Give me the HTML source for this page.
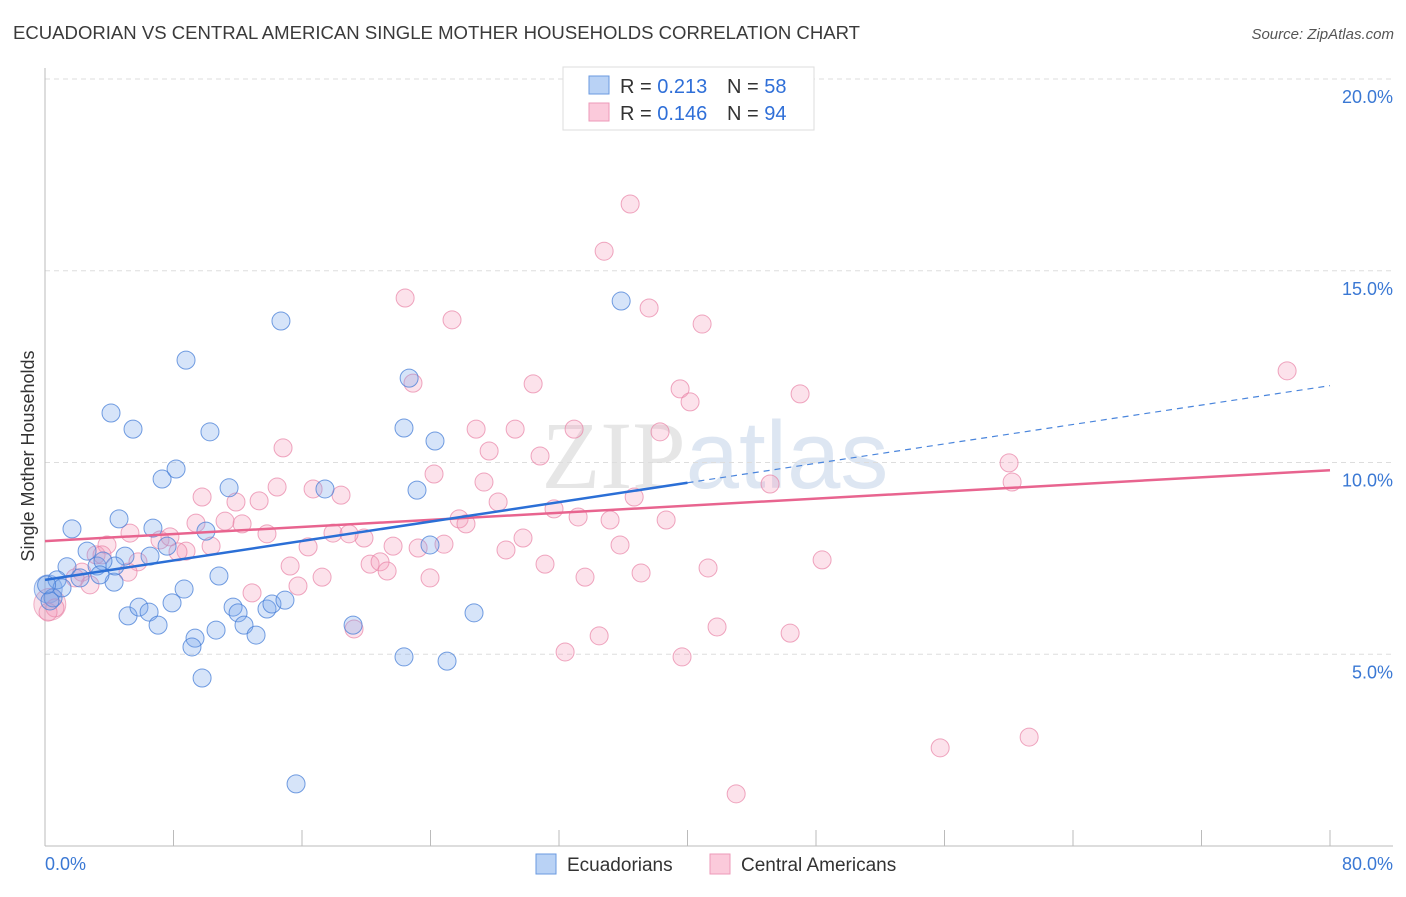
<!DOCTYPE html>
<html><head><meta charset="utf-8"><style>
body{margin:0;background:#fff;font-family:"Liberation Sans",sans-serif}
</style></head><body>
<svg id="chart" width="1406" height="892" xmlns="http://www.w3.org/2000/svg" font-family="Liberation Sans, sans-serif">
<text x="13" y="39" font-size="18" fill="#3a3a3a" textLength="847" lengthAdjust="spacingAndGlyphs">ECUADORIAN VS CENTRAL AMERICAN SINGLE MOTHER HOUSEHOLDS CORRELATION CHART</text>
<text x="1394" y="39" font-size="15" fill="#555" text-anchor="end" font-style="italic">Source: ZipAtlas.com</text>
<text x="715" y="488" font-size="96" fill="#e6e6e6" text-anchor="middle" font-family="Liberation Serif, serif">ZIP<tspan font-family="Liberation Sans, sans-serif" fill="#dde6f2">atlas</tspan></text>
<g id="grid"></g><g id="axes"></g><g id="pts"></g><g id="lines"></g>
<text transform="translate(34,456) rotate(-90)" font-size="18" fill="#333" text-anchor="middle">Single Mother Households</text>
<g>
<rect x="563" y="67" width="251" height="63" fill="#fff" stroke="#ddd"/>
<rect x="589" y="76" width="20" height="18" fill="#b9d2f5" stroke="#6a9ae0"/>
<text x="620" y="93" font-size="20" fill="#333">R = <tspan fill="#2f6fd8">0.213</tspan></text>
<text x="727" y="93" font-size="20" fill="#333">N = <tspan fill="#2f6fd8">58</tspan></text>
<rect x="589" y="103" width="20" height="18" fill="#fbcadb" stroke="#ee9ab8"/>
<text x="620" y="120" font-size="20" fill="#333">R = <tspan fill="#2f6fd8">0.146</tspan></text>
<text x="727" y="120" font-size="20" fill="#333">N = <tspan fill="#2f6fd8">94</tspan></text>
</g>
<g><rect x="536" y="854" width="20" height="20" fill="#b9d2f5" stroke="#6a9ae0"/><text x="567" y="871" font-size="19" fill="#333">Ecuadorians</text></g>
<g><rect x="710" y="854" width="20" height="20" fill="#fbcadb" stroke="#ee9ab8"/><text x="741" y="871" font-size="19" fill="#333">Central Americans</text></g>
</svg>
<script>
const blueX=[1.68,4.61,4.11,5.48,6.72,7.29,8.16,8.78,10.27,11.46,10.02,7.60,4.98,3.24,2.62,1.37,0.75,0.50,0.31,4.30,4.36,3.61,5.17,5.85,6.48,7.04,7.91,8.66,10.83,9.34,9.15,9.78,10.65,11.71,12.02,12.39,13.14,13.82,14.13,14.94,14.69,15.63,17.43,19.18,22.35,22.67,23.16,23.97,24.28,22.35,25.03,26.71,35.87,1.06,2.18,0.1,6.54,3.42];
const blueY=[8.27,8.53,11.29,10.87,8.29,9.57,9.83,12.67,10.80,9.34,8.21,7.82,7.56,7.30,7.69,7.28,6.94,6.47,6.39,6.88,7.30,7.43,6.00,6.23,6.10,5.76,6.34,6.70,7.04,5.42,5.19,4.38,5.63,6.23,6.08,5.76,5.50,6.18,6.31,6.41,13.69,1.62,9.31,5.76,10.90,12.20,9.28,7.85,10.56,4.93,4.82,6.08,14.21,6.73,6.99,6.81,7.56,7.07];
const pinkX=[36.43,34.81,22.42,37.61,40.91,25.34,30.39,39.54,40.16,47.01,77.33,22.91,14.82,26.84,29.27,32.94,38.29,27.65,30.82,24.22,27.33,60.02,60.21,45.14,36.68,28.21,9.78,11.89,13.33,14.45,16.69,18.43,11.21,12.27,9.40,13.82,17.93,19.86,18.93,25.78,26.21,31.69,33.19,35.18,38.67,29.76,28.70,35.80,21.67,23.23,24.84,10.34,8.78,8.28,7.16,7.78,5.29,3.86,3.18,5.79,2.30,2.80,1.87,20.24,20.86,31.13,33.62,37.11,41.28,48.38,15.26,17.25,23.97,15.75,12.89,19.24,34.50,41.84,46.39,32.38,39.66,55.73,61.27,43.03,0.62,0.19,3.55,16.38,21.30,5.17];
const pinkY=[16.74,15.51,14.29,14.03,13.61,13.72,12.05,11.92,11.58,11.79,12.39,12.07,10.38,10.87,10.87,10.87,10.80,10.30,10.17,9.70,9.49,9.99,9.49,9.44,9.10,8.97,9.10,8.97,9.00,9.36,9.31,9.15,8.47,8.40,8.42,8.14,8.16,8.03,8.14,8.53,8.40,8.79,8.58,8.50,8.50,8.03,7.72,7.85,7.82,7.77,7.87,7.82,7.69,7.67,7.98,8.06,8.16,7.85,7.59,7.41,7.14,6.81,6.99,7.35,7.41,7.35,7.01,7.12,7.25,7.46,7.30,7.01,6.99,6.78,6.60,5.66,5.48,5.71,5.55,5.06,4.93,2.56,2.84,1.36,6.21,6.10,7.59,7.80,7.17,7.14];
const blueLine=[6.94,0.0633];
const pinkLine=[7.95,0.0231];
const yTicks=[5,10,15,20];
const xTickLabels=["0.0%","80.0%"];
const NS="http://www.w3.org/2000/svg";
const X=v=>45+v*1285/80, Y=v=>846-v*38.35;
function mk(p,t,a){const e=document.createElementNS(NS,t);for(const k in a)e.setAttribute(k,a[k]);p.appendChild(e);return e;}
const grid=document.getElementById('grid'),axes=document.getElementById('axes'),pts=document.getElementById('pts'),lines=document.getElementById('lines');
yTicks.forEach(t=>{const l=mk(grid,'line',{x1:45,x2:1393,y1:Y(t),y2:Y(t),stroke:'#ddd','stroke-dasharray':'5,4'});


const tx=mk(grid,'text',{x:1393,y:Y(t)+24,'font-size':18,fill:'#3a78d4','text-anchor':'end'});tx.textContent=t.toFixed(1)+'%';

});
mk(axes,'line',{x1:45,x2:45,y1:68,y2:846,stroke:'#bbb'});
mk(axes,'line',{x1:45,x2:1393,y1:846,y2:846,stroke:'#bbb'});
for(let i=0;i<=10;i++){const t=mk(axes,'line',{x1:X(i*8),x2:X(i*8),y1:830,y2:846,stroke:'#bbb'});

}
const xl0=mk(axes,'text',{x:45,y:870,'font-size':18,fill:'#3a78d4'});xl0.textContent=xTickLabels[0];


const xl1=mk(axes,'text',{x:1393,y:870,'font-size':18,fill:'#3a78d4','text-anchor':'end'});xl1.textContent=xTickLabels[1];


mk(pts,'circle',{cx:X(0.3),cy:Y(6.3),r:16,fill:'rgba(240,150,180,0.3)',stroke:'rgba(232,130,165,0.6)'});
mk(pts,'circle',{cx:X(0.2),cy:Y(6.7),r:14,fill:'rgba(110,155,230,0.3)',stroke:'rgba(80,130,220,0.6)'});
pinkX.forEach((x,i)=>{const c=mk(pts,'circle',{cx:X(x),cy:Y(pinkY[i]),r:9,fill:'rgba(245,160,190,0.3)',stroke:'rgba(232,130,165,0.7)'});

});
blueX.forEach((x,i)=>{const c=mk(pts,'circle',{cx:X(x),cy:Y(blueY[i]),r:9,fill:'rgba(120,165,235,0.3)',stroke:'rgba(70,125,215,0.75)'});

});
const pl=mk(lines,'line',{x1:X(0),y1:Y(pinkLine[0]),x2:X(80),y2:Y(pinkLine[0]+80*pinkLine[1]),stroke:'#e8648f','stroke-width':2.5});


const bl=mk(lines,'line',{x1:X(0),y1:Y(blueLine[0]),x2:X(40),y2:Y(blueLine[0]+40*blueLine[1]),stroke:'#2b6fd6','stroke-width':2.5});


const bd=mk(lines,'line',{x1:X(40),y1:Y(blueLine[0]+40*blueLine[1]),x2:X(80),y2:Y(blueLine[0]+80*blueLine[1]),stroke:'#4a85dc','stroke-width':1.2,'stroke-dasharray':'6,5'});


</script>
</body></html>
